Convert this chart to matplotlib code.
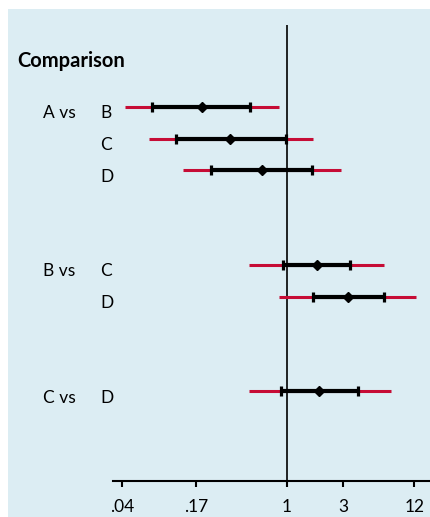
import numpy as np
import matplotlib
matplotlib.use('Agg')
import matplotlib.pyplot as plt
from matplotlib.patches import Rectangle
from matplotlib.transforms import blended_transform_factory

plt.rcParams['font.family'] = ['Lato', 'DejaVu Sans']

# comparisons, grouped by the first treatment
groups = ['A vs', 'B vs', 'C vs']
letters = [['B', 'C', 'D'], ['C', 'D'], ['D']]

# point estimate, inner interval (black) and outer interval (red)
est = [0.19, 0.33, 0.615, 1.79, 3.28, 1.86]
inner_lo = [0.072, 0.115, 0.228, 0.925, 1.66, 0.89]
inner_hi = [0.487, 0.98, 1.63, 3.41, 6.6, 3.98]
outer_lo = [0.042, 0.067, 0.132, 0.477, 0.856, 0.477]
outer_hi = [0.856, 1.66, 2.86, 6.6, 12.5, 7.56]

tick_vals = [0.04, 0.17, 1, 3, 12]
tick_labels = ['.04', '.17', '1', '3', '12']

W, H = 431, 517
red = '#C60C35'
bg = '#DCEDF3'

fig = plt.figure(figsize=(W / 100, H / 100), dpi=100)
fig.patches.append(Rectangle((8 / W, 0), 1, (H - 9) / H, transform=fig.transFigure,
                             facecolor=bg, edgecolor='none', zorder=-1))

ax = fig.add_axes([113 / W, (H - 481) / H, (W - 113) / W, (481 - 25) / H])
ax.patch.set_visible(False)

# row index for each comparison, two blank rows between groups
rows = []
row_group = []
r = 0
for g, lets in enumerate(letters):
    for j, _ in enumerate(lets):
        rows.append(r)
        row_group.append((g, j))
        r += 1
    r += 2

for i, y in enumerate(rows):
    ax.plot([outer_lo[i], outer_hi[i]], [y, y], color=red, lw=2.2,
            solid_capstyle='butt', zorder=2)
    ax.plot([inner_lo[i], inner_hi[i]], [y, y], color='black', lw=3,
            solid_capstyle='butt', zorder=3)
    ax.plot([inner_lo[i], inner_hi[i]], [y, y], ls='none', marker='|',
            ms=6.5, mew=2.3, color='black', zorder=4)
    ax.plot(est[i], y, marker='D', ms=5.5, color='black', zorder=5)

ax.axvline(1, color='black', lw=1.2, zorder=1)

ax.set_xscale('log')
ax.set_xlim(np.exp((113 - 287) / 51.2), np.exp((431 - 287) / 51.2))
ax.set_ylim((481 - 107) / 31.6, (25 - 107) / 31.6)
ax.set_xticks(tick_vals)
ax.set_xticklabels(tick_labels)
ax.minorticks_off()
ax.set_yticks([])
for s in ['top', 'right', 'left']:
    ax.spines[s].set_visible(False)
ax.spines['bottom'].set_linewidth(1.5)
ax.tick_params(axis='x', direction='out', length=4, width=1.5, pad=9, labelsize=12.5)

# labels on the left, x in figure pixels, y in rows
tr = blended_transform_factory(fig.transFigure, ax.transData)
for i, y in enumerate(rows):
    g, j = row_group[i]
    if j == 0:
        ax.text(43 / W, y + 0.36, groups[g], transform=tr, ha='left', va='baseline',
                fontsize=12.5, clip_on=False)
    ax.text(100 / W, y + 0.36, letters[g][j], transform=tr, ha='left', va='baseline',
            fontsize=12.5, clip_on=False)

ax.text(17 / W, -1.275, 'Comparison', transform=tr, ha='left', va='baseline',
        fontsize=14.5, fontweight='bold', clip_on=False)

fig.savefig('out.png', dpi=100)
